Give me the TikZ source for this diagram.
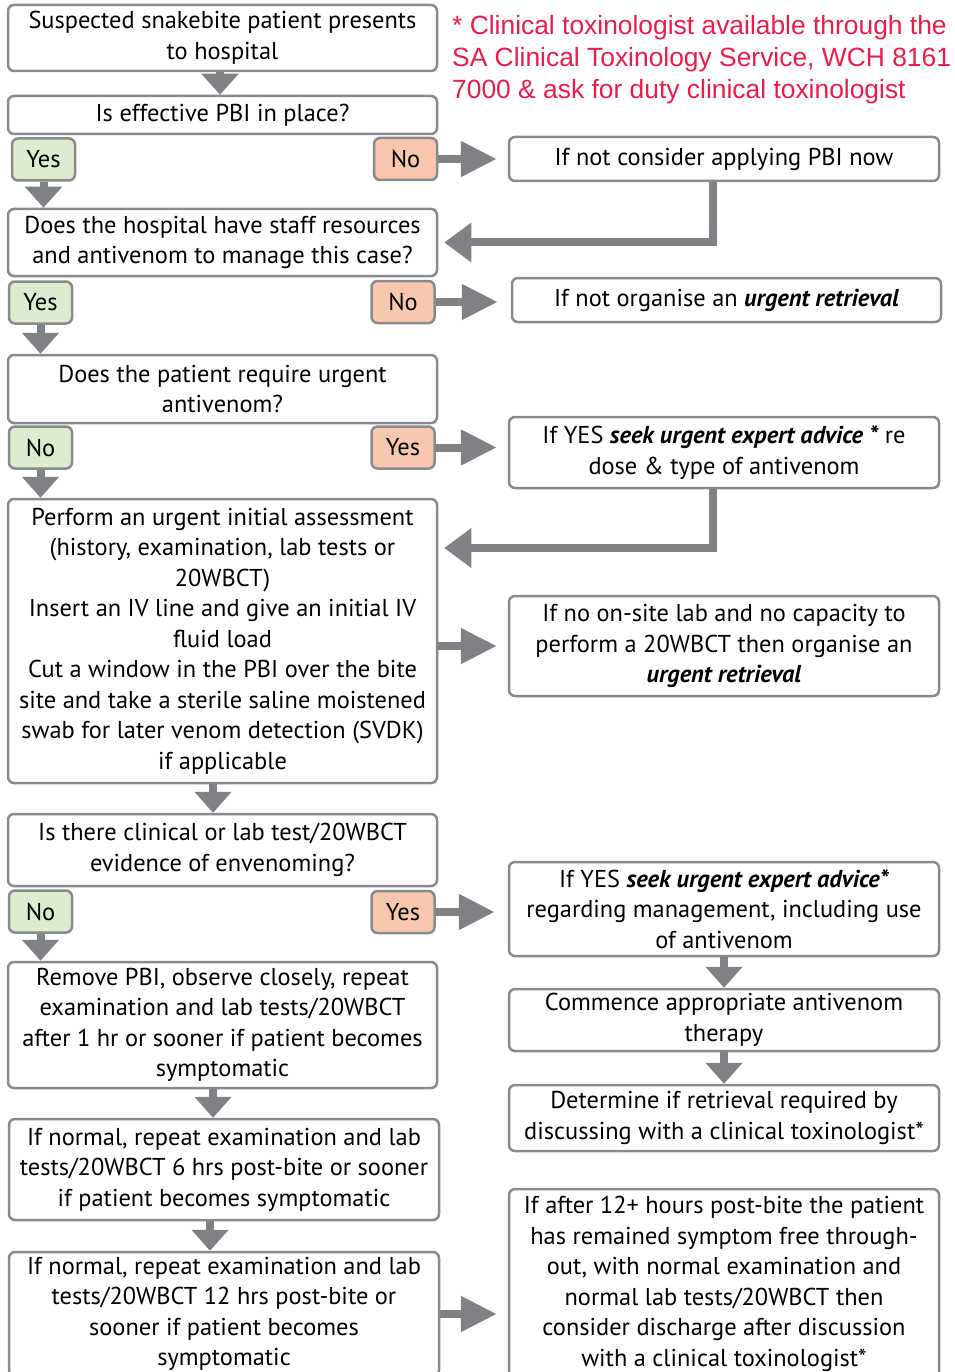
\documentclass[tikz,border=0pt]{standalone}
\usepackage{fontspec}
\setmainfont{PT Sans}
\newfontfamily\notefont{Liberation Sans}
\usepackage{tikz}
\usetikzlibrary{arrows.meta}

\definecolor{linegray}{HTML}{8A8A8C}
\definecolor{arrowgray}{HTML}{808184}
\definecolor{yesgreen}{HTML}{DDEBCF}
\definecolor{nosalmon}{HTML}{F8C8AE}
\definecolor{notered}{HTML}{EC1B4B}

\tikzset{
  box/.style={draw=linegray, line width=2.5pt, rounded corners=6pt, fill=white,
    align=center, inner sep=0pt, font=\fontsize{24.4}{30.5}\selectfont},
  yesbox/.style={box, fill=yesgreen, minimum width=63pt, minimum height=42pt},
  nobox/.style={box, fill=nosalmon, minimum width=63pt, minimum height=42pt},
  arr/.style={draw=arrowgray, line width=8pt, -{Triangle[length=36pt,width=34pt]}},
  darr/.style={draw=arrowgray, line width=8pt, -{Triangle[length=21pt,width=36pt]}},
  barr/.style={draw=arrowgray, line width=8pt, -{Triangle[length=27pt,width=38pt]}},
}

\begin{document}
\begin{tikzpicture}[x=1pt,y=-1pt]
    \useasboundingbox (0,0) rectangle (954,1372);
    % left column
    \node[box, minimum width=429pt, minimum height=66pt] (b1) at (222.5,38) {Suspected snakebite patient presents\\to hospital};
    \node[box, minimum width=429pt, minimum height=38pt] (b2) at (222.5,115) {Is effective PBI in place?};
    \node[yesbox] (yes1) at (43.5,159.5) {Yes};
    \node[nobox] (no1) at (405.5,159) {No};
    \node[box, minimum width=429pt, minimum height=67pt] (b3) at (222.5,242.5) {Does the hospital have staff resources\\and antivenom to manage this case?};
    \node[yesbox] (yes2) at (40.5,302.5) {Yes};
    \node[nobox] (no2) at (403,302) {No};
    \node[box, minimum width=429pt, minimum height=68pt] (b4) at (222.5,389) {Does the patient require urgent\\antivenom?};
    \node[yesbox] (no3) at (40.5,447.5) {No};
    \node[nobox] (yes3) at (403,447.5) {Yes};
    \node[box, minimum width=429pt, minimum height=284pt] (b5) at (222.5,641) {Perform an urgent initial assessment\\(history, examination, lab tests or\\20WBCT)\\Insert an IV line and give an initial IV\\fluid load\\Cut a window in the PBI over the bite\\site and take a sterile saline moistened\\swab for later venom detection (SVDK)\\if applicable};
    \node[box, minimum width=429pt, minimum height=72pt] (b6) at (222.5,850) {Is there clinical or lab test/20WBCT\\evidence of envenoming?};
    \node[yesbox] (no4) at (40.5,911.5) {No};
    \node[nobox] (yes4) at (403,912) {Yes};
    \node[box, minimum width=429pt, minimum height=126pt] (b7) at (222.5,1025) {Remove PBI, observe closely, repeat\\examination and lab tests/20WBCT\\after 1 hr or sooner if patient becomes\\symptomatic};
    \node[box, minimum width=430pt, minimum height=101pt] (b8) at (224,1169.5) {If normal, repeat examination and lab\\tests/20WBCT 6 hrs post-bite or sooner\\if patient becomes symptomatic};
    \node[box, minimum width=430pt, minimum height=124pt] (b9) at (224,1314) {If normal, repeat examination and lab\\tests/20WBCT 12 hrs post-bite or\\sooner if patient becomes\\symptomatic};
    % right column
    \node[align=left, anchor=north west, inner sep=0pt, text=notered, font=\notefont\fontsize{26.4}{32}\selectfont] (note) at (452,15) {* Clinical toxinologist available through the\\SA Clinical Toxinology Service, WCH 8161\\7000 \& ask for duty clinical toxinologist};
    \node[box, minimum width=430pt, minimum height=44pt] (r1) at (724,159) {If not consider applying PBI now};
    \node[box, minimum width=429pt, minimum height=44pt] (r2) at (726.5,300) {If not organise an \textbf{\textit{urgent retrieval}}};
    \node[box, minimum width=430pt, minimum height=71pt] (r3) at (724,452.5) {If YES \textbf{\textit{seek urgent expert advice *}} re\\dose \& type of antivenom};
    \node[box, minimum width=430pt, minimum height=100pt] (r4) at (724,646) {If no on-site lab and no capacity to\\perform a 20WBCT then organise an\\\textbf{\textit{urgent retrieval}}};
    \node[box, minimum width=430pt, minimum height=94pt] (r5) at (724,909) {If YES \textbf{\textit{seek urgent expert advice*}}\\regarding management, including use\\of antivenom};
    \node[box, minimum width=430pt, minimum height=62pt] (r6) at (724,1020) {Commence appropriate antivenom\\therapy};
    \node[box, minimum width=430pt, minimum height=66pt] (r7) at (724,1118) {Determine if retrieval required by\\discussing with a clinical toxinologist*};
    \node[box, minimum width=430pt, minimum height=190pt] (r8) at (724,1284) {If after 12+ hours post-bite the patient\\has remained symptom free through-\\out, with normal examination and\\normal lab tests/20WBCT then\\consider discharge after discussion\\with a clinical toxinologist*};
    % arrows
    \draw[darr] ([xshift=-2.5pt]b1.south) -- ([xshift=-2.5pt]b1.south |- b2.north);
    \draw[darr] (yes1.south) -- (yes1.south |- b3.north);
    \draw[darr] (yes2.south) -- (yes2.south |- b4.north);
    \draw[darr] (no3.south) -- (no3.south |- b5.north);
    \draw[darr] ([xshift=-9.5pt]b5.south) -- ([xshift=-9.5pt]b5.south |- b6.north);
    \draw[darr] (no4.south) -- (no4.south |- b7.north);
    \draw[darr] ([xshift=-9.5pt]b7.south) -- ([xshift=-9.5pt]b7.south |- b8.north);
    \draw[darr] ([xshift=-14pt]b8.south) -- ([xshift=-14pt]b8.south |- b9.north);
    \draw[darr] (r5.south) -- (r6.north);
    \draw[darr] (r6.south) -- (r7.north);
    \draw[arr, shorten >=11pt] (no1.east) -- (r1.west);
    \draw[arr, shorten >=13pt] (no2.east) -- (no2.east -| r2.west);
    \draw[arr, shorten >=11pt] (yes3.east) -- (yes3.east -| r3.west);
    \draw[arr, shorten >=11pt] (b5.east |- r4.west) -- (r4.west);
    \draw[arr, shorten >=13pt] (yes4.east) -- (yes4.east -| r5.west);
    \draw[arr, shorten >=11pt] (b9.east |- 0,1314) -- (r8.west |- 0,1314);
    \draw[barr, shorten >=6pt] ([xshift=-11pt]r1.south) |- (b3.east);
    \draw[barr, shorten >=6pt] ([xshift=-11pt]r3.south) |- (b5.east |- 0,548);
\end{tikzpicture}
\end{document}
